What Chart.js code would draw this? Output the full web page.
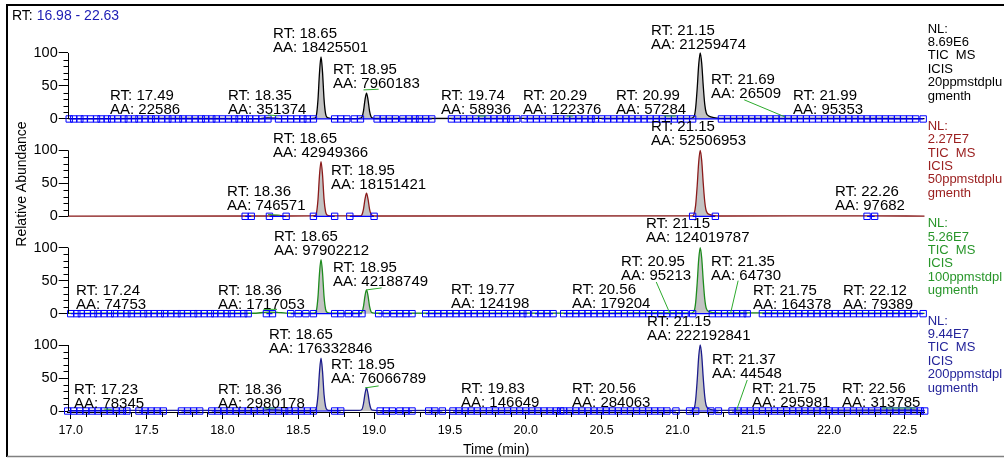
<!DOCTYPE html>
<html><head><meta charset="utf-8">
<script src="https://cdn.jsdelivr.net/npm/chart.js@4.4.1/dist/chart.umd.min.js"></script>
<style>
html,body{margin:0;padding:0;background:#fff;}
canvas{display:block;}
</style></head><body>
<canvas id="c" width="1004" height="459"></canvas>
<script>
// ---------------- data ----------------
const rangeText = ['RT:', '16.98 - 22.63'];
const xMin = 16.98, xMax = 22.63;
const xTickValues = [17.0,17.5,18.0,18.5,19.0,19.5,20.0,20.5,21.0,21.5,22.0,22.5];
const yTickValues = [0,50,100];
const xTitle = 'Time (min)';
const yTitle = 'Relative Abundance';

const nlValues = ['8.69E6','2.27E7','5.26E7','9.44E7'];
const scanLines = ['TIC  MS','ICIS'];
const sampleNames = [['20ppmstdplu','gmenth'],['50ppmstdplu','gmenth'],['100ppmstdpl','ugmenth'],['200ppmstdpl','ugmenth']];

// chromatogram traces: [time (min), relative abundance (%)]
const trace1 = [[16.98,0.5],[17.49,0.8],[18.25,0.6],[18.30,1.5],[18.34,1.2],[18.40,0.6],[18.58,0.6],[18.61,1.2],[18.62,6],[18.63,29],[18.64,70],[18.65,94],[18.66,71],[18.67,30],[18.68,8],[18.69,2.5],[18.71,1],[18.75,0.6],[18.89,0.6],[18.91,1.2],[18.92,3],[18.93,12],[18.94,29],[18.95,39],[18.96,29],[18.97,12],[18.98,3.5],[18.99,1.5],[19.01,0.7],[19.74,0.8],[20.29,0.9],[20.99,0.9],[21.09,0.8],[21.11,4],[21.12,17],[21.13,46],[21.14,82],[21.15,100],[21.16,84],[21.17,50],[21.18,22],[21.19,9],[21.21,4],[21.24,2],[21.28,1],[21.69,0.8],[21.99,0.8],[22.63,0.6]];
const trace2 = [[16.98,0.3],[18.30,0.5],[18.36,1.5],[18.42,0.5],[18.61,1],[18.62,5],[18.63,25],[18.64,62],[18.65,83],[18.66,63],[18.67,26],[18.68,7],[18.69,2],[18.71,0.7],[18.91,0.8],[18.92,2.5],[18.93,11],[18.94,26],[18.95,35],[18.96,26],[18.97,11],[18.98,3],[18.99,1.2],[19.01,0.5],[21.10,0.7],[21.11,4],[21.12,17],[21.13,46],[21.14,82],[21.15,100],[21.16,84],[21.17,50],[21.18,22],[21.19,8],[21.21,3],[21.24,1.2],[21.28,0.5],[22.26,0.8],[22.63,0.3]];
const trace3 = [[16.98,0.4],[17.24,0.8],[18.20,0.6],[18.30,2.2],[18.36,2],[18.42,0.8],[18.60,0.8],[18.61,1.2],[18.62,5],[18.63,25],[18.64,61],[18.65,82],[18.66,62],[18.67,26],[18.68,7],[18.69,2],[18.71,0.8],[18.90,0.8],[18.92,2.5],[18.93,11],[18.94,27],[18.95,36],[18.96,27],[18.97,11],[18.98,3],[18.99,1.3],[19.02,0.6],[19.77,0.8],[20.56,0.9],[20.95,1.2],[21.09,0.8],[21.11,4],[21.12,17],[21.13,46],[21.14,82],[21.15,100],[21.16,84],[21.17,50],[21.18,22],[21.19,8],[21.21,3],[21.24,1.5],[21.29,0.8],[21.35,1.2],[21.75,0.9],[22.12,0.9],[22.63,0.5]];
const trace4 = [[16.98,0.5],[17.23,1],[18.25,0.8],[18.30,2],[18.36,1.5],[18.42,0.8],[18.60,0.8],[18.61,1.2],[18.62,5],[18.63,24],[18.64,59],[18.65,80],[18.66,60],[18.67,25],[18.68,7],[18.69,2],[18.71,0.9],[18.90,0.9],[18.92,2.5],[18.93,11],[18.94,26],[18.95,35],[18.96,26],[18.97,11],[18.98,3],[18.99,1.3],[19.02,0.7],[19.83,1],[20.56,1],[21.09,0.9],[21.11,4],[21.12,17],[21.13,46],[21.14,82],[21.15,100],[21.16,84],[21.17,50],[21.18,22],[21.19,8],[21.21,3],[21.24,1.5],[21.29,1],[21.37,1.2],[21.75,1],[22.56,1.5],[22.63,0.8]];

// ICIS peak-boundary markers (time, min); null = break in baseline
const bounds1 = [16.99,17.02,17.06,17.09,17.13,17.17,17.20,17.24,17.27,17.31,17.35,17.38,17.42,17.45,17.49,17.53,17.56,17.60,17.64,17.67,17.71,17.74,17.78,17.82,17.86,17.89,17.93,17.96,18.00,18.04,18.08,18.11,18.15,18.18,18.22,18.26,18.30,18.37,18.41,18.45,18.49,18.53,18.56,18.60,18.74,18.78,18.82,18.87,18.91,19.02,19.06,19.10,19.14,19.19,19.23,19.27,19.30,19.34,19.38,null,19.51,19.55,19.59,19.63,19.67,19.71,19.75,19.79,19.83,19.87,19.90,19.94,null,19.99,20.03,20.07,20.11,20.15,20.19,20.23,20.27,20.31,20.35,20.39,20.43,20.46,null,20.50,20.54,20.58,20.62,20.66,20.70,20.74,20.78,20.82,20.86,20.90,20.94,20.98,21.02,21.06,21.10,21.29,21.33,21.37,21.41,21.45,21.49,21.53,21.57,21.61,21.65,21.69,21.73,21.77,21.81,21.85,21.89,21.93,21.97,22.01,22.05,22.09,22.13,22.17,22.21,22.25,22.29,22.33,22.37,22.41,22.45,22.49,22.53,22.57,22.62];
const bounds2 = [18.15,18.19,null,18.31,18.42,null,18.60,18.74,null,18.84,19.00,null,21.10,21.25,null,22.25,22.30];
const bounds3 = [17.00,17.04,17.07,17.11,17.15,17.18,17.22,17.26,17.29,17.33,17.37,17.40,17.44,17.48,17.51,17.55,17.59,17.62,17.66,17.70,17.73,17.77,17.81,17.84,17.88,17.92,17.95,17.99,18.03,18.06,18.10,18.14,18.17,null,18.29,18.33,null,18.45,18.50,18.55,18.60,18.74,18.78,18.83,18.88,18.92,null,19.03,19.08,19.13,19.17,19.21,19.25,null,19.34,19.38,19.42,19.46,19.50,19.54,19.58,19.62,19.66,19.70,19.74,19.78,19.82,19.86,19.90,19.94,19.98,20.01,null,20.06,20.10,20.14,20.18,null,20.25,20.29,20.33,20.37,20.41,20.45,20.49,20.53,20.57,20.61,20.65,20.69,20.73,20.77,20.81,20.85,20.89,20.93,20.97,21.01,21.05,21.10,21.23,21.27,21.31,21.35,21.39,21.43,21.46,null,21.56,21.60,21.64,21.68,21.72,21.76,21.80,21.84,21.88,21.92,21.96,22.00,22.04,22.08,22.12,22.16,22.20,22.24,22.28,22.32,22.36,22.40,22.44,22.48,22.52,22.56,22.62];
const bounds4 = [16.98,17.02,17.06,17.10,17.14,17.18,17.22,17.26,17.30,17.34,17.37,null,17.45,17.49,17.53,17.57,17.61,null,17.73,17.77,17.81,17.85,null,17.93,17.97,18.01,18.05,18.09,18.13,18.17,18.21,18.25,18.29,18.33,18.37,18.41,18.44,18.48,18.52,18.56,18.60,18.74,18.78,null,19.04,19.08,19.12,19.17,19.21,19.25,null,19.36,19.40,19.45,null,19.52,19.56,19.60,19.64,19.68,19.72,19.76,19.80,19.84,19.88,19.92,19.96,20.00,20.04,20.08,20.12,20.16,20.20,20.23,null,20.25,20.29,20.33,20.37,20.41,20.45,20.49,20.53,20.57,20.61,20.65,20.69,20.73,20.77,20.81,20.85,20.89,20.93,20.99,null,21.08,21.12,21.22,21.27,null,21.36,21.40,21.44,21.48,21.52,21.56,21.60,21.64,21.68,21.72,21.76,21.80,21.84,21.88,21.92,21.96,22.00,22.04,22.08,22.12,22.16,22.20,22.24,22.28,22.32,22.36,22.40,22.44,22.48,22.52,22.56,22.60,22.63];

// detected peaks: retention time and area
const rt1 = ['17.49','18.35','18.65','18.95','19.74','20.29','20.99','21.15','21.69','21.99'];
const aa1 = ['22586','351374','18425501','7960183','58936','122376','57284','21259474','26509','95353'];
const rt2 = ['18.36','18.65','18.95','21.15','22.26'];
const aa2 = ['746571','42949366','18151421','52506953','97682'];
const rt3 = ['17.24','18.36','18.65','18.95','19.77','20.56','20.95','21.15','21.35','21.75','22.12'];
const aa3 = ['74753','1717053','97902212','42188749','124198','179204','95213','124019787','64730','164378','79389'];
const rt4 = ['17.23','18.36','18.65','18.95','19.83','20.56','21.15','21.37','21.75','22.56'];
const aa4 = ['78345','2980178','176332846','76066789','146649','284063','222192841','44548','295981','313785'];

// ---------------- label placement (axis units: time of left edge, % level of RT line) ----------------
const place1 = [[17.259,35.3],[18.037,35.3],[18.334,128.8],[18.729,74.2],[19.441,35],[19.982,35],[20.595,35],[20.825,133.3],[21.221,59],[21.762,35]];
const place2 = [[18.031,36.8],[18.334,116.7],[18.716,68.2],[20.825,134.8],[22.038,36.4]];
const place3 = [[17.035,35.3],[17.971,35.3],[18.340,116.7],[18.729,69.7],[19.507,36.4],[20.305,36.4],[20.628,78.8],[20.793,136.4],[21.221,78.8],[21.498,34.8],[22.091,34.8]];
const place4 = [[17.022,31.8],[17.971,31.8],[18.307,115],[18.716,69.7],[19.573,33.3],[20.305,33.3],[20.800,134.8],[21.227,77.3],[21.491,33.3],[22.085,33.3]];
// leader lines [t1,v1,t2,v2]
const lead1 = [[18.30,6,18.36,5],[18.93,44,19.03,45],[19.68,4.5,19.74,4.5],[20.27,4.5,20.31,4.5],[20.91,4.5,20.99,4.5],[21.44,29,21.71,3]];
const lead2 = [[18.30,3,18.38,1.5]];
const lead3 = [[18.27,6.5,18.36,6.5],[18.95,36,19.05,39],[20.86,48,20.95,0.5],[21.40,50,21.35,0.5]];
const lead4 = [[17.22,3,17.27,2.5],[18.27,4.5,18.35,4.5],[18.94,35,19.03,38],[21.46,47,21.39,1.5],[22.35,4.5,22.57,4.5]];

// ---------------- styles ----------------
const FONT = '"Liberation Sans", Arial, Helvetica, sans-serif';
Chart.defaults.font.family = FONT;
const traceColors = ['#000000','#8b1a1a','#1e8c1e','#1c1c8c'];
const textColors  = ['#000000','#9b2020','#28962a','#24249a'];
const markerBlue = '#0000ff';
const peakFill = '#c3c3c3';
const leaderGreen = '#2caa2c';

const traces = [trace1,trace2,trace3,trace4];
const bounds = [bounds1,bounds2,bounds3,bounds4];
const rts = [rt1,rt2,rt3,rt4], aas = [aa1,aa2,aa3,aa4];
const places = [place1,place2,place3,place4], leads = [lead1,lead2,lead3,lead4];

const datasets = [];
traces.forEach((tr,i)=>{
  datasets.push({
    type:'line', yAxisID:'y'+(i+1), data: tr.map(p=>({x:p[0],y:p[1]})),
    borderColor: traceColors[i], borderWidth:1.3, backgroundColor: peakFill,
    fill:'origin', pointRadius:0, cubicInterpolationMode:'monotone', order:2
  });
  datasets.push({
    type:'line', yAxisID:'y'+(i+1),
    data: bounds[i].map(t => t===null ? {x:NaN,y:null} : {x:t,y:0}),
    borderColor: markerBlue, borderWidth:1.2, pointStyle:'rect', pointRadius:4.5,
    pointBorderColor: markerBlue, pointBackgroundColor:'rgba(0,0,0,0)', pointBorderWidth:1,
    fill:false, spanGaps:false, clip:false, order:1
  });
});

function yAxis(){
  return {
    type:'linear', position:'left', stack:'panels', stackWeight:1,
    min:-1.5, max:146,
    afterBuildTicks: s => { s.ticks = yTickValues.map(v=>({value:v})); },
    afterFit: s => { s.width = 67.7; },
    ticks:{ color:'#000', font:{size:14.5}, padding:1 },
    grid:{ display:true, drawOnChartArea:false, drawTicks:true, tickLength:9, color:'#000', lineWidth:1 },
    border:{ display:false }
  };
}

const decor = {
  id:'decor',
  afterDraw(chart){
    const ctx = chart.ctx, xs = chart.scales.x, area = chart.chartArea;
    ctx.save();
    // frame
    ctx.strokeStyle = '#000'; ctx.lineWidth = 2;
    ctx.beginPath(); ctx.moveTo(7,457); ctx.lineTo(7,5); ctx.lineTo(1004,5); ctx.stroke();
    ctx.strokeStyle = '#808080'; ctx.lineWidth = 1.5;
    ctx.beginPath(); ctx.moveTo(7,456.5); ctx.lineTo(1004,456.5); ctx.stroke();
    // header
    ctx.textBaseline = 'middle'; ctx.textAlign = 'left';
    ctx.font = '14px ' + FONT;
    ctx.fillStyle = '#000'; ctx.fillText(rangeText[0], 12, 16);
    const w = ctx.measureText(rangeText[0] + ' ').width;
    ctx.fillStyle = '#1c1cb4'; ctx.fillText(rangeText[1], 12 + w, 16);
    // y title
    ctx.save(); ctx.translate(22, 184); ctx.rotate(-Math.PI/2);
    ctx.fillStyle = '#000'; ctx.textAlign = 'center'; ctx.font = '14px ' + FONT;
    ctx.fillText(yTitle, 0, 0); ctx.restore();
    // x minor ticks
    ctx.strokeStyle = '#000'; ctx.lineWidth = 1;
    ctx.beginPath();
    for (let k = 170; k <= 226; k++) {
      if (k % 5 === 0) continue;
      const x = Math.round(xs.getPixelForValue(k/10)) + 0.5;
      ctx.moveTo(x, area.bottom); ctx.lineTo(x, area.bottom + 5);
    }
    ctx.stroke();
    for (let i = 0; i < 4; i++) {
      const ys = chart.scales['y'+(i+1)];
      const x0 = Math.round(area.left) + 0.5;
      const p0 = ys.getPixelForValue(0), p100 = ys.getPixelForValue(100);
      ctx.strokeStyle = '#000'; ctx.lineWidth = 1;
      ctx.beginPath(); ctx.moveTo(x0, p0); ctx.lineTo(x0, p100);
      for (let v = 10; v < 100; v += 10) {
        if (v === 50) continue;
        const y = Math.round(ys.getPixelForValue(v)) + 0.5;
        ctx.moveTo(x0 - 5, y); ctx.lineTo(x0, y);
      }
      ctx.stroke();
      // leaders
      ctx.strokeStyle = leaderGreen; ctx.lineWidth = 1;
      ctx.beginPath();
      leads[i].forEach(l => {
        ctx.moveTo(xs.getPixelForValue(l[0]), ys.getPixelForValue(l[1]));
        ctx.lineTo(xs.getPixelForValue(l[2]), ys.getPixelForValue(l[3]));
      });
      ctx.stroke();
      // peak labels
      ctx.fillStyle = '#000'; ctx.font = '15px ' + FONT; ctx.textAlign = 'left'; ctx.textBaseline = 'middle';
      rts[i].forEach((rt, j) => {
        const lx = xs.getPixelForValue(places[i][j][0]);
        const ly = ys.getPixelForValue(places[i][j][1]);
        ctx.fillText('RT: ' + rt, lx, ly);
        ctx.fillText('AA: ' + aas[i][j], lx, ly + 14);
      });
      // NL block
      ctx.fillStyle = textColors[i]; ctx.font = '13px ' + FONT;
      const lines = ['NL:', nlValues[i], scanLines[0], scanLines[1], sampleNames[i][0], sampleNames[i][1]];
      const nx = area.right + 3;
      lines.forEach((t, j) => ctx.fillText(t, nx, p100 - 24 + j * 13.4));
    }
    ctx.restore();
  }
};

// stacked left axes are placed top-down in reverse definition order,
// so the panels are declared bottom (y4) to top (y1)
new Chart(document.getElementById('c'), {
  data:{ datasets },
  options:{
    responsive:false, animation:false, devicePixelRatio:1,
    layout:{ padding:{ left:0, right:79.3, top:22.6, bottom:0 } },
    plugins:{ legend:{display:false}, tooltip:{enabled:false} },
    scales:{
      x:{
        type:'linear', position:'bottom', min:xMin, max:xMax,
        afterBuildTicks: s => { s.ticks = xTickValues.map(v=>({value:v})); },
        afterFit: s => { s.height = 47; },
        ticks:{ color:'#000', font:{size:12.5}, padding:4, maxRotation:0, autoSkip:false, callback:v=>Number(v).toFixed(1) },
        grid:{ display:true, drawOnChartArea:false, drawTicks:true, tickLength:7, color:'#000' },
        border:{ display:true, color:'#000', width:1 },
        title:{ display:true, text:xTitle, color:'#000', font:{size:14}, padding:{top:7, bottom:0} }
      },
      y4: yAxis(), y3: yAxis(), y2: yAxis(), y1: yAxis()
    }
  },
  plugins:[decor]
});
</script>
</body></html>
